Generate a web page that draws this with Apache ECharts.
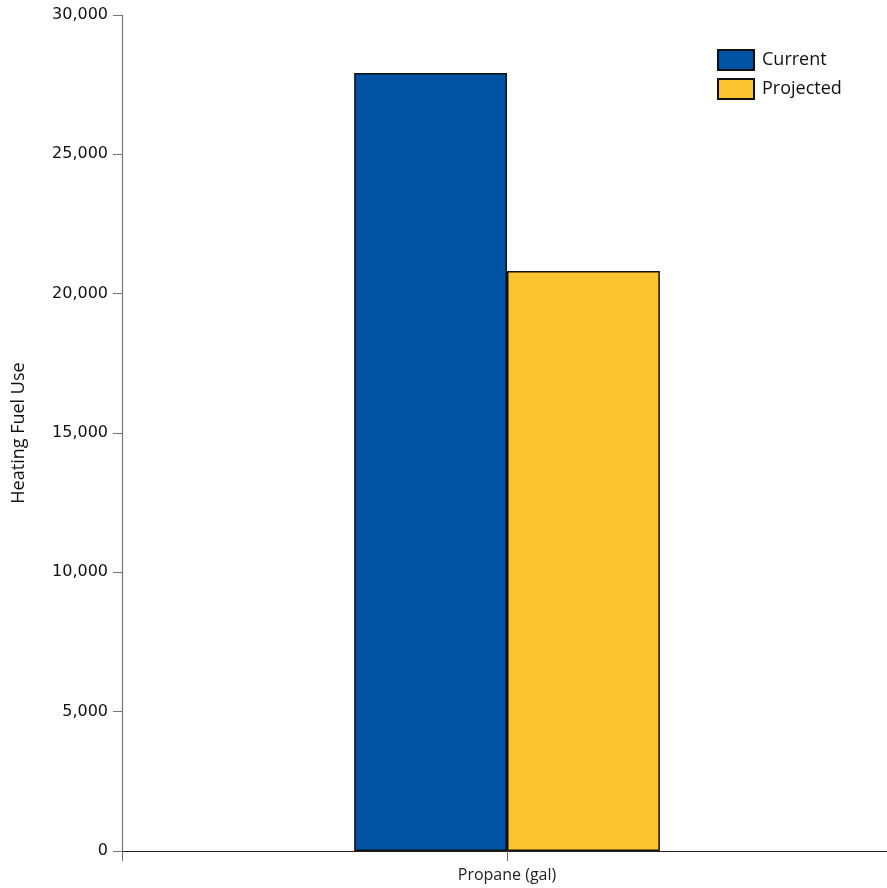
<!DOCTYPE html>
<html>
<head>
<meta charset="utf-8">
<script src="https://cdn.jsdelivr.net/npm/echarts@6/dist/echarts.min.js"></script>
<style>
  html, body { margin: 0; padding: 0; background: #fff; }
  #chart { width: 887px; height: 888px; }
</style>
</head>
<body>
<div id="chart"></div>
<script>
// Heating fuel use, current vs. projected
const categories = ['Propane (gal)'];
const currentUse = [27920];
const projectedUse = [20810];
const seriesNames = ['Current', 'Projected'];
const yTicks = { min: 0, max: 30000, interval: 5000 };

const chart = echarts.init(document.getElementById('chart'));

const fmt = v => v.toLocaleString('en-US');

chart.setOption({
  animation: false,
  // plot band runs slightly past the right edge of the canvas
  grid: { left: 122, width: 770, top: 15, bottom: 37, containLabel: false, outerBoundsMode: 'none' },
  legend: {
    data: seriesNames,
    icon: 'rect',
    left: 712,
    top: 44,
    orient: 'vertical',
    itemWidth: 36,
    itemHeight: 20,
    itemGap: 7,
    textStyle: { fontFamily: 'Open Sans', fontSize: 18, color: '#111', padding: [0, 0, 0, 3] }
  },
  xAxis: [
    {
      type: 'category',
      data: categories,
      axisLine: { lineStyle: { color: '#222', width: 1.2 } },
      axisTick: { show: true, alignWithLabel: true, length: 10, lineStyle: { color: '#666' } },
      axisLabel: { fontFamily: 'Open Sans', fontSize: 16, color: '#222', margin: 16 }
    },
    {
      // outer ticks at the category band edges
      type: 'category',
      data: categories,
      position: 'bottom',
      axisLine: { show: false },
      axisTick: { show: true, length: 10, lineStyle: { color: '#666' } },
      axisLabel: { show: false }
    }
  ],
  yAxis: {
    type: 'value',
    min: yTicks.min,
    max: yTicks.max,
    interval: yTicks.interval,
    name: 'Heating Fuel Use',
    nameLocation: 'middle',
    nameGap: 94,
    nameTextStyle: { fontFamily: 'Open Sans', fontSize: 18, color: '#111' },
    axisLine: { show: true, lineStyle: { color: '#777', width: 1.2 } },
    axisTick: { show: true, length: 9, lineStyle: { color: '#777' } },
    axisLabel: { fontFamily: 'DejaVu Sans', fontSize: 16, color: '#111', margin: 14, formatter: fmt },
    splitLine: { show: false }
  },
  series: [
    {
      name: seriesNames[0],
      type: 'bar',
      data: currentUse,
      barGap: '0%',
      barCategoryGap: '60.3%',
      itemStyle: { color: '#0054A3', borderColor: '#111', borderWidth: 1.5 }
    },
    {
      name: seriesNames[1],
      type: 'bar',
      data: projectedUse,
      itemStyle: { color: '#FCC42E', borderColor: '#111', borderWidth: 1.5 }
    }
  ]
});
</script>
</body>
</html>
